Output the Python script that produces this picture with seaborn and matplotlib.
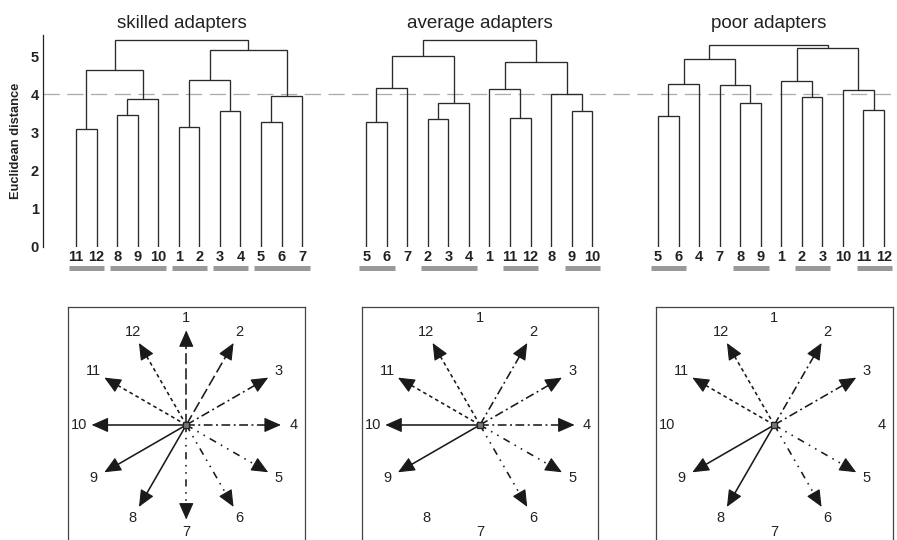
import numpy as np
import matplotlib
matplotlib.use("Agg")
import matplotlib.pyplot as plt
import seaborn as sns

sns.set_style("white")
plt.rcParams['font.family'] = ['Liberation Sans', 'DejaVu Sans']

# panel titles
titles = ["skilled adapters", "average adapters", "poor adapters"]

# leaf order of each dendrogram
skilled_leaves = [11, 12, 8, 9, 10, 1, 2, 3, 4, 5, 6, 7]
average_leaves = [5, 6, 7, 2, 3, 4, 1, 11, 12, 8, 9, 10]
poor_leaves = [5, 6, 4, 7, 8, 9, 1, 2, 3, 10, 11, 12]

# merges: (left, right, height); ints = leaf labels, "m<i>" = i-th merge
skilled_merges = [(11, 12, 3.08), (8, 9, 3.45), ("m1", 10, 3.88), ("m0", "m2", 4.65),
                  (1, 2, 3.15), (3, 4, 3.55), ("m4", "m5", 4.37),
                  (5, 6, 3.27), ("m7", 7, 3.96), ("m6", "m8", 5.15), ("m3", "m9", 5.43)]
average_merges = [(5, 6, 3.28), ("m0", 7, 4.16), (2, 3, 3.35), ("m2", 4, 3.76),
                  ("m1", "m3", 5.01), (11, 12, 3.37), (1, "m5", 4.13),
                  (9, 10, 3.55), (8, "m7", 4.01), ("m6", "m8", 4.86), ("m4", "m9", 5.42)]
poor_merges = [(5, 6, 3.44), ("m0", 4, 4.28), (8, 9, 3.76), (7, "m2", 4.24),
               ("m1", "m3", 4.93), (2, 3, 3.92), (1, "m5", 4.34),
               (11, 12, 3.58), (10, "m7", 4.10), ("m6", "m8", 5.21), ("m4", "m9", 5.29)]

# clusters below the cut (grey bars)
skilled_groups = [[11, 12], [8, 9, 10], [1, 2], [3, 4], [5, 6, 7]]
average_groups = [[5, 6], [2, 3, 4], [11, 12], [9, 10]]
poor_groups = [[5, 6], [8, 9], [2, 3], [11, 12]]

cut_height = 4.0

# arrows drawn in each direction plot (direction -> line style key)
skilled_arrows = {1: "dash", 2: "dash", 3: "dashdot", 4: "dashdot",
                  5: "dashdotdot", 6: "dashdotdot", 7: "dashdotdot",
                  8: "solid", 9: "solid", 10: "solid", 11: "dot", 12: "dot"}
average_arrows = {2: "dashdot", 3: "dashdot", 4: "dashdot", 5: "dashdotdot", 6: "dashdotdot",
                  9: "solid", 10: "solid", 11: "dot", 12: "dot"}
poor_arrows = {2: "dashdot", 3: "dashdot", 5: "dashdotdot", 6: "dashdotdot",
               8: "solid", 9: "solid", 11: "dot", 12: "dot"}

directions = list(range(1, 13))

styles = {"solid": "-", "dash": (0, (7, 2.5)), "dashdot": (0, (5.5, 2.2, 1.2, 2.2)),
          "dashdotdot": (0, (4.5, 3.5, 1, 3.5, 1, 3.5)), "dot": (0, (2.3, 2.0))}

leaves_all = [skilled_leaves, average_leaves, poor_leaves]
merges_all = [skilled_merges, average_merges, poor_merges]
groups_all = [skilled_groups, average_groups, poor_groups]
arrows_all = [skilled_arrows, average_arrows, poor_arrows]

fig = plt.figure(figsize=(8.97, 5.40), dpi=100)

# ---- top row: dendrograms in one shared axes ----
W, H = 897.0, 540.0
spacing = 20.55
x_left_px = 43
x0_px = 76
ax = fig.add_axes([x_left_px / W, (H - 246.7) / H, 1 - x_left_px / W, 5.55 * 38.1 / H])
ax.set_xlim((x_left_px - x0_px) / spacing, (W - x0_px) / spacing)
ax.set_ylim(0, 5.55)
offsets = [0, 14.12, 28.32]
lc = "#2b2b2b"

for leaves, merges, groups, off in zip(leaves_all, merges_all, groups_all, offsets):
    pos = {lab: (off + i, 0.0) for i, lab in enumerate(leaves)}
    for k, (a, b, h) in enumerate(merges):
        xa, ha = pos[a]
        xb, hb = pos[b]
        ax.plot([xa, xa, xb, xb], [ha, h, h, hb], color=lc, lw=0.95, solid_joinstyle="miter")
        pos["m%d" % k] = ((xa + xb) / 2, h)
    for i, lab in enumerate(leaves):
        ax.text(off + i, -0.28, str(lab), ha="center", va="center", fontsize=10.5,
                fontweight="bold", color="#222222", clip_on=False)
    for g in groups:
        xs = [pos[l][0] for l in g]
        ax.plot([min(xs) - 0.33, max(xs) + 0.38], [-0.56, -0.56], color="#999999",
                lw=3.6, solid_capstyle="butt", clip_on=False)

ax.axhline(cut_height, color="#aaaaaa", lw=0.9, dashes=(13, 6), zorder=0)
ax.set_yticks(range(0, 6))
ax.set_yticklabels([str(v) for v in range(0, 6)], fontsize=10.5, fontweight="bold", color="#222222")
ax.tick_params(axis="y", length=0, pad=3)
ax.set_xticks([])
sns.despine(ax=ax, left=False, bottom=True, right=True, top=True)
ax.spines["left"].set_color("#222222")
ax.spines["left"].set_linewidth(0.9)
ax.patch.set_alpha(0)

fig.text(16 / W, 1 - 141 / H, "Euclidean distance", rotation=90, ha="center", va="center",
         fontsize=9.3, fontweight="bold", color="#222222")

title_x = [181.7, 479.7, 768.7]
for t, tx in zip(titles, title_x):
    fig.text(tx / W, 1 - 24 / H, t, ha="center", va="center", fontsize=13.5, color="#222222")

# ---- bottom row: direction plots ----
box_left = [68, 361.7, 656]
box_size = 236.5
box_top = 306.7
r_arrow = 0.80
r_label = 0.905

for left, arrows in zip(box_left, arrows_all):
    bx = fig.add_axes([left / W, (H - box_top - box_size) / H, box_size / W, box_size / H])
    bx.set_xlim(-1, 1)
    bx.set_ylim(-1, 1)
    bx.set_xticks([])
    bx.set_yticks([])
    for s in bx.spines.values():
        s.set_color("#444444")
        s.set_linewidth(0.9)
    for d in directions:
        ang = np.deg2rad(90 - 30 * (d - 1))
        c, s_ = np.cos(ang), np.sin(ang)
        bx.text(r_label * c, r_label * s_, str(d), ha="center", va="center", fontsize=10.5,
                color="#222222")
        if d in arrows:
            ls = styles[arrows[d]]
            r_base = r_arrow - 0.1
            bx.plot([0, r_base * c], [0, r_base * s_], color="#1a1a1a", lw=1.15, linestyle=ls)
            bx.annotate("", xy=(r_arrow * c, r_arrow * s_), xytext=(r_base * c, r_base * s_),
                        arrowprops=dict(arrowstyle="-|>,head_length=0.95,head_width=0.42",
                                        mutation_scale=11, color="#1a1a1a", lw=0.8,
                                        shrinkA=0, shrinkB=0))
    bx.plot([0], [0], marker="s", ms=5, mfc="#777777", mec="#222222", mew=0.9)

fig.savefig("out.png", dpi=100)
